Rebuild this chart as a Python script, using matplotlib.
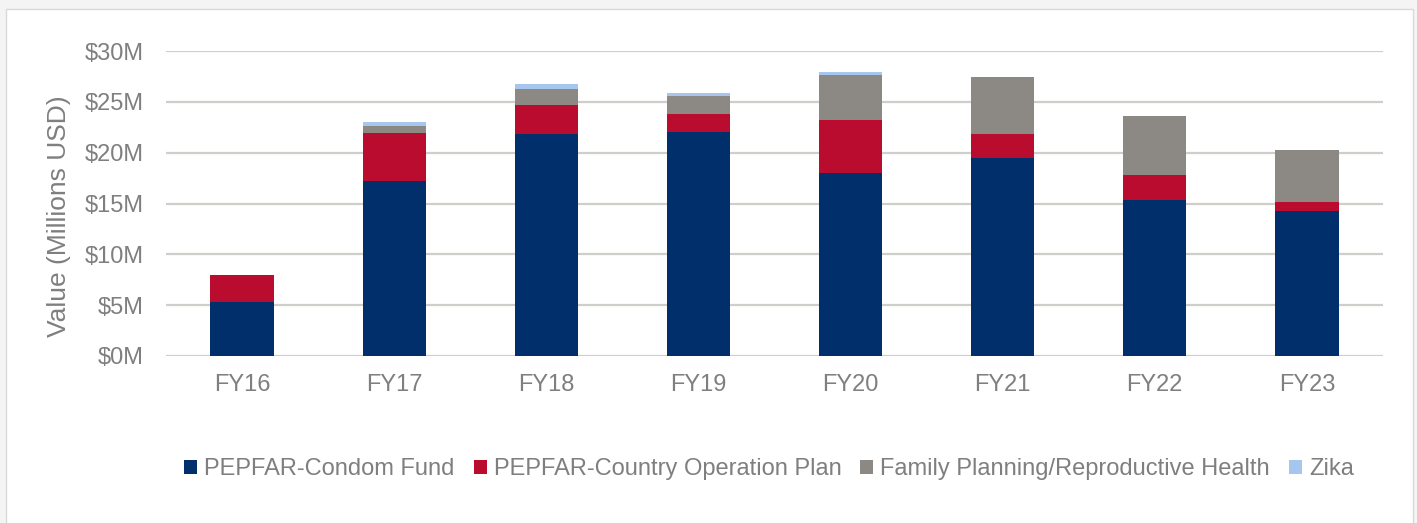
import matplotlib
matplotlib.use("Agg")
import matplotlib.pyplot as plt
import matplotlib.ticker as mtick
from matplotlib.patches import Rectangle
import numpy as np

plt.rcParams["font.family"] = ["Liberation Sans", "DejaVu Sans"]

# data (millions USD)
years = ["FY16", "FY17", "FY18", "FY19", "FY20", "FY21", "FY22", "FY23"]
condom_fund = [5.33, 17.2, 21.85, 22.0, 18.03, 19.48, 15.33, 14.3]
country_op_plan = [2.63, 4.7, 2.85, 1.8, 5.17, 2.32, 2.51, 0.83]
family_planning = [0.0, 0.7, 1.6, 1.8, 4.47, 5.6, 5.76, 5.17]
zika = [0.0, 0.45, 0.5, 0.25, 0.27, 0.0, 0.0, 0.0]

series_names = ["PEPFAR-Condom Fund", "PEPFAR-Country Operation Plan",
                "Family Planning/Reproductive Health", "Zika"]
colors = ["#002F6C", "#BA0C2F", "#8C8985", "#A7C6ED"]
text_gray = "#7F7F7F"

fig = plt.figure(figsize=(14.17, 5.23), dpi=100, facecolor="#F4F4F4")
# white card with thin border
fig.patches.append(Rectangle((6 / 1417, -0.02), 1407 / 1417, 1 - 9 / 523 + 0.02,
                             transform=fig.transFigure, facecolor="white",
                             edgecolor="#D9D9D9", linewidth=1.0, zorder=-10))

ax = fig.add_axes([166 / 1417, 1 - 356 / 523, 1217 / 1417, 305 / 523])
ax.set_facecolor("none")

x = np.arange(len(years))
bottom = np.zeros(len(years))
for vals, name, c in zip([condom_fund, country_op_plan, family_planning, zika], series_names, colors):
    ax.bar(x, vals, width=0.415, bottom=bottom, color=c, label=name, zorder=3)
    bottom += np.array(vals)

ax.set_xlim(-0.5, len(years) - 0.5)
ax.set_ylim(0, 30)
ax.set_yticks(range(0, 31, 5))
ax.yaxis.set_major_formatter(mtick.FuncFormatter(lambda v, p: f"${v:.0f}M"))
ax.set_xticks(x)
ax.set_xticklabels(years)
ax.grid(axis="y", color="#D0CEC9", linewidth=1.6, zorder=0)
for s in ax.spines.values():
    s.set_visible(False)
ax.tick_params(axis="both", length=0, labelsize=17, colors=text_gray)
ax.tick_params(axis="y", pad=16)
ax.tick_params(axis="x", pad=13)

fig.text(59 / 1417, 1 - 216 / 523, "Value (Millions USD)", rotation=90,
         ha="center", va="center", fontsize=19, color=text_gray)

leg = fig.legend(loc="center", bbox_to_anchor=(769 / 1417, 1 - 469 / 523), ncol=4,
                 frameon=False, fontsize=17, handlelength=0.55, handleheight=0.55,
                 handletextpad=0.3, columnspacing=0.8)
for t in leg.get_texts():
    t.set_color(text_gray)

fig.savefig("out.png", dpi=100, facecolor=fig.get_facecolor())
